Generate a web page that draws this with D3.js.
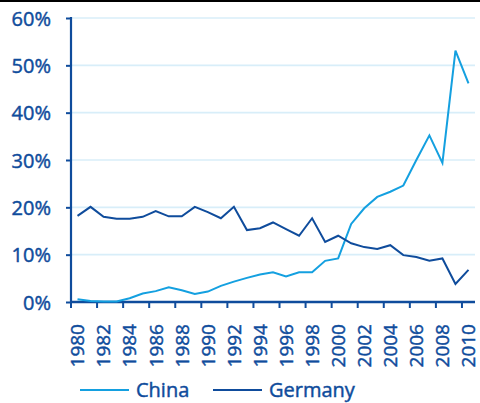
<!DOCTYPE html>
<html>
<head>
<meta charset="utf-8">
<script src="https://cdn.jsdelivr.net/npm/d3@7"></script>
<style>
  html, body { margin: 0; padding: 0; background: #fff; }
  svg { display: block; }
  text { font-family: "Open Sans", sans-serif; fill: #0f4c9c; stroke: #0f4c9c; stroke-width: 0.45px; }
</style>
</head>
<body>
<div id="chart"></div>
<script>
const years = d3.range(1980, 2011);
const yTicks = [0, 10, 20, 30, 40, 50, 60];
const china = [0.6, 0.2, 0.1, 0.1, 0.8, 1.8, 2.3, 3.1, 2.5, 1.7, 2.2, 3.4, 4.3, 5.1, 5.8, 6.3, 5.4, 6.3, 6.3, 8.7,
               9.2, 16.5, 19.8, 22.2, 23.3, 24.6, 30.0, 35.2, 29.4, 53.1, 46.2];
const germany = [18.2, 20.1, 18.0, 17.6, 17.6, 18.0, 19.2, 18.1, 18.1, 20.1, 19.0, 17.7, 20.1, 15.2, 15.6, 16.8, 15.4, 14.0, 17.7, 12.7,
                 14.0, 12.4, 11.6, 11.2, 12.0, 9.9, 9.5, 8.7, 9.2, 3.8, 6.8];
const seriesNames = ["China", "Germany"];
const colors = ["#14a0e0", "#0f4c9c"];

const W = 480, H = 403;
const plotL = 71, plotR = 475, plotT = 18, plotB = 302;

const svg = d3.select("#chart").append("svg").attr("width", W).attr("height", H);

// frame rule along the top edge
svg.append("rect").attr("x", 0).attr("y", 0).attr("width", W).attr("height", 2).attr("fill", "#000");

const x = d3.scaleBand().domain(years).range([plotL, plotR]).padding(0);
const y = d3.scaleLinear().domain([0, 60]).range([plotB, plotT]);
const cx = d => x(d) + x.bandwidth() / 2;

// horizontal gridlines
svg.append("g").selectAll("line").data(yTicks.filter(t => t > 0)).join("line")
  .attr("x1", plotL).attr("x2", plotR)
  .attr("y1", d => y(d)).attr("y2", d => y(d))
  .attr("stroke", "#d8eef9").attr("stroke-width", 1.7);

// y axis
const yAxis = svg.append("g").attr("transform", `translate(${plotL},0)`)
  .call(d3.axisLeft(y).tickValues(yTicks).tickSize(5).tickPadding(15).tickFormat(d => d + "%"));
yAxis.select(".domain").attr("stroke", "#0f4c9c").attr("stroke-width", 2.2)
  .attr("d", `M0,${plotT - 1}V${plotB}`);
yAxis.selectAll(".tick line").attr("stroke", "#0f4c9c").attr("stroke-width", 2);
yAxis.selectAll(".tick text").style("font-size", "20px").attr("dy", "0.36em");

// x axis: labels every other year at category centres, ticks on category boundaries
const labelYears = years.filter(v => v % 2 === 0);
const xAxis = svg.append("g").attr("transform", `translate(0,${plotB})`)
  .call(d3.axisBottom(x).tickValues(labelYears).tickSize(0).tickPadding(0));
xAxis.select(".domain").remove();
xAxis.selectAll(".tick text")
  .style("font-size", "19px")
  .attr("text-anchor", "end")
  .attr("transform", "rotate(-90)")
  .attr("x", -22).attr("y", 0).attr("dy", "0.36em");
svg.append("line").attr("x1", plotL - 1).attr("x2", plotR).attr("y1", plotB).attr("y2", plotB)
  .attr("stroke", "#0f4c9c").attr("stroke-width", 2.4);
svg.append("g").selectAll("line").data(labelYears).join("line")
  .attr("x1", d => x(d)).attr("x2", d => x(d))
  .attr("y1", plotB).attr("y2", plotB + 6)
  .attr("stroke", "#0f4c9c").attr("stroke-width", 2);

// series lines
const line = d3.line().x((d, i) => cx(years[i])).y(d => y(d));
[china, germany].forEach((s, i) => {
  svg.append("path").datum(s).attr("d", line)
    .attr("fill", "none").attr("stroke", colors[i]).attr("stroke-width", 2)
    .attr("stroke-linejoin", "miter");
});

// legend
const legendX = [80, 213];
const lg = svg.append("g");
seriesNames.forEach((name, i) => {
  lg.append("line").attr("x1", legendX[i]).attr("x2", legendX[i] + 49)
    .attr("y1", 390).attr("y2", 390).attr("stroke", colors[i]).attr("stroke-width", 2);
  lg.append("text").attr("x", legendX[i] + 56).attr("y", 390).attr("dy", "0.36em")
    .style("font-size", "20px").text(name);
});
</script>
</body>
</html>
